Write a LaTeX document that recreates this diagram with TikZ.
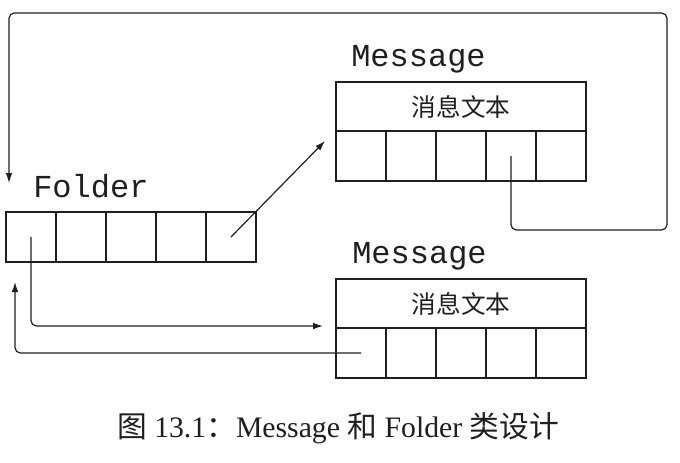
\documentclass[tikz,border=0pt]{standalone}
\usepackage{fontspec}
\setmainfont{Liberation Serif}
\setmonofont{Liberation Mono}
\newfontfamily\cjk{Noto Sans CJK SC}
\usetikzlibrary{arrows.meta}
\colorlet{ink}{black!88}
\tikzset{
  cell/.style={draw=ink,line width=1.3pt,minimum width=37.5pt,minimum height=37.5pt,inner sep=0pt,outer sep=0pt,anchor=north west},
  textrow/.style={draw=ink,line width=1.3pt,minimum width=187.5pt,minimum height=36.75pt,inner sep=0pt,outer sep=0pt,anchor=north west,font=\cjk\fontsize{18.5}{20}\selectfont,text=ink},
  classlabel/.style={anchor=base west,inner sep=0pt,font=\ttfamily\fontsize{24}{24}\selectfont,text=ink},
  link/.style={draw=ink,line width=0.9pt,rounded corners=4pt,-{Latex[length=7.5pt,width=5pt]}},
}
\begin{document}
\begin{tikzpicture}[x=0.75pt,y=-0.75pt]
\useasboundingbox (0,0) rectangle (680,462);
% Folder
\node[classlabel] (flabel) at (33,197) {Folder};
\foreach \i/\x in {1/6,2/56,3/106,4/156,5/206}
  \node[cell] (f\i) at (\x,212) {};
% Message 1
\node[classlabel] (m1label) at (351,66) {Message};
\node[textrow] (m1t) at (336,82) {消息文本};
\foreach \i/\x in {1/336,2/386,3/436,4/486,5/536}
  \node[cell] (ma\i) at (\x,131) {};
% Message 2
\node[classlabel] (m2label) at (352,263) {Message};
\node[textrow] (m2t) at (336,279) {消息文本};
\foreach \i/\x in {1/336,2/386,3/436,4/486,5/536}
  \node[cell] (mb\i) at (\x,328) {};
% caption
\node[anchor=base,inner sep=0pt,text=ink,font=\fontsize{22.3}{24}\selectfont] (cap) at (338,437)
  {{\cjk 图} 13.1{\cjk ：}Message {\cjk 和} Folder {\cjk 类设计}};
% connector end points
\coordinate (e1) at (325,141);
\coordinate (e2) at (323,326);
\coordinate (e3) at (15,282);
\coordinate (e4) at (9,183);
% connectors
\draw[link] (f5.center) -- (e1);
\draw[link] (f1.center) |- (e2);
\draw[link] (mb1.center) -| (e3);
\draw[link] (ma4.center) -- (ma4.center |- 0,230) -- (667,230) -- (667,13) -- (9,13) -- (e4);
\end{tikzpicture}
\end{document}
